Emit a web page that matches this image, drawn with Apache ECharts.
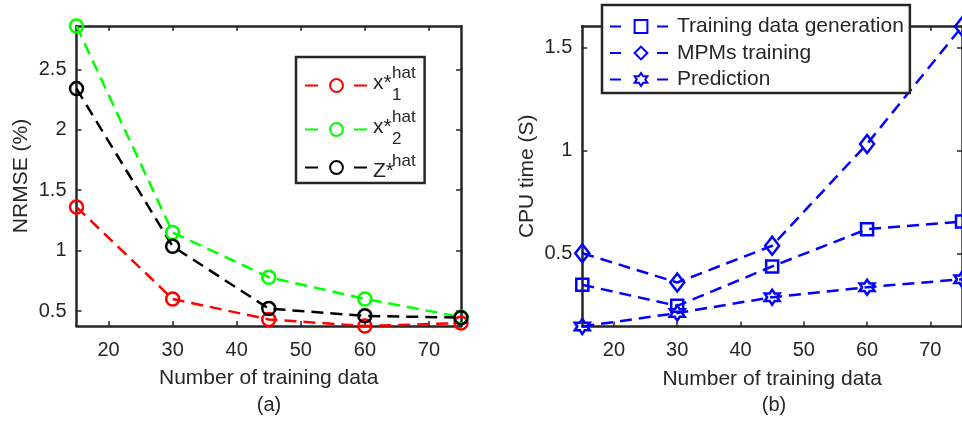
<!DOCTYPE html>
<html><head><meta charset="utf-8">
<script src="https://cdn.jsdelivr.net/npm/echarts@6/dist/echarts.min.js"></script>
<style>html,body{margin:0;padding:0;background:#fff}#c{width:962px;height:421px}</style>
</head><body><div id="c"></div>
<script>
// ---- data ----
const trainingCounts = [15, 30, 45, 60, 75];
const xTicks = [20, 30, 40, 50, 60, 70];
const nrmseTicks = [0.5, 1, 1.5, 2, 2.5];
const cpuTicks = [0.5, 1, 1.5];
const nrmseRange = [0.376, 2.858];
const cpuRange = [0.148, 1.603];
const nrmseX1 = [1.36, 0.60, 0.43, 0.376, 0.40];
const nrmseX2 = [2.858, 1.15, 0.78, 0.60, 0.45];
const nrmseZ = [2.34, 1.035, 0.52, 0.46, 0.445];
const cpuGeneration = [0.35, 0.248, 0.439, 0.619, 0.656];
const cpuTraining = [0.503, 0.361, 0.539, 1.032, 1.60];
const cpuPrediction = [0.148, 0.213, 0.29, 0.338, 0.377];
const nrmseNames = ['x*hat_1', 'x*hat_2', 'Z*hat'];
const cpuNames = ['Training data generation', 'MPMs training', 'Prediction'];
const xTitle = 'Number of training data';

const FONT = '"Liberation Sans", Arial, sans-serif';
const AX = '#262626';
const hexagram = 'path://M0,-10L2.887,-5L8.66,-5L5.774,0L8.66,5L2.887,5L0,10L-2.887,5L-8.66,5L-5.774,0L-8.66,-5L-2.887,-5Z';

function mk(name, vals, color, symbol, size, idx) {
  return {
    type: 'line', name, xAxisIndex: idx, yAxisIndex: idx,
    data: trainingCounts.map((x, i) => [x, vals[i]]),
    symbol, symbolSize: size, showAllSymbol: true, clip: false,
    lineStyle: { color, width: 2.5, type: [12, 7] },
    itemStyle: { color: 'transparent', borderColor: color, borderWidth: 2.5 },
    emphasis: { disabled: true }, z: 3
  };
}

function xAx(grid, pos, main) {
  return {
    type: 'value', gridIndex: grid, position: pos, min: 15, max: 75,
    splitLine: { show: false },
    axisLine: { show: true, onZero: false, lineStyle: { color: AX, width: 2.5 } },
    axisTick: { show: true, inside: true, length: 5, customValues: xTicks, lineStyle: { color: AX, width: 1.5 } },
    axisLabel: main ? { show: true, customValues: xTicks, fontSize: 20, color: AX, fontFamily: FONT, margin: 14 } : { show: false },
    name: main ? xTitle : '', nameLocation: 'middle', nameGap: 42,
    nameTextStyle: { fontSize: 21, color: AX, fontFamily: FONT }
  };
}
function yAx(grid, pos, range, ticks, title) {
  const main = !!title;
  return {
    type: 'value', gridIndex: grid, position: pos, min: range[0], max: range[1],
    splitLine: { show: false },
    axisLine: { show: true, onZero: false, lineStyle: { color: AX, width: 2.5 } },
    axisTick: { show: true, inside: true, length: 5, customValues: ticks, lineStyle: { color: AX, width: 1.5 } },
    axisLabel: main ? { show: true, customValues: ticks, fontSize: 20, color: AX, fontFamily: FONT, margin: 10 } : { show: false },
    name: title || '', nameLocation: 'middle', nameRotate: 90, nameGap: 45,
    nameTextStyle: { fontSize: 21, color: AX, fontFamily: FONT }
  };
}

const chart = echarts.init(document.getElementById('c'), null, { renderer: 'canvas' });
chart.setOption({
  animation: false,
  backgroundColor: '#fff',
  grid: [
    { left: 76.5, top: 26, width: 384.5, height: 300 },
    { left: 582.3, top: 26, width: 384, height: 300.5 }
  ],
  xAxis: [xAx(0, 'bottom', true), xAx(0, 'top', false), xAx(1, 'bottom', true), xAx(1, 'top', false)],
  yAxis: [
    yAx(0, 'left', nrmseRange, nrmseTicks, 'NRMSE (%)'),
    yAx(0, 'right', nrmseRange, nrmseTicks, null),
    yAx(1, 'left', cpuRange, cpuTicks, 'CPU time (S)'),
    yAx(1, 'right', cpuRange, cpuTicks, null)
  ],
  legend: [
    {
      data: nrmseNames, orient: 'vertical', left: 296, top: 57,
      padding: [8, 9, 1, 8], itemGap: 5, itemWidth: 63, itemHeight: 16,
      backgroundColor: '#fff', borderColor: AX, borderWidth: 2.5, borderRadius: 0,
      lineStyle: { type: [13, 36] }, selectedMode: false,
      formatter: function (n) {
        if (n === 'Z*hat') return '{sp| }{sup|hat}\n{b|Z*}';
        const k = n.slice(-1);
        return '{sp| }{sup|hat}\n{b|x*}\n{sp2| }{sub|' + k + '}';
      },
      textStyle: {
        color: AX, fontFamily: FONT, fontSize: 21,
        rich: {
          b: { fontSize: 21, lineHeight: 12, fontFamily: FONT, color: AX },
          sp: { width: 19, fontSize: 16, lineHeight: 8 },
          sp2: { width: 19, fontSize: 16, lineHeight: 12 },
          sup: { fontSize: 17, lineHeight: 8, fontFamily: FONT, color: AX },
          sub: { fontSize: 17, lineHeight: 12, fontFamily: FONT, color: AX }
        }
      }
    },
    {
      data: cpuNames, orient: 'vertical', left: 602, top: 5,
      padding: [11, 6, 3, 7], itemGap: 5.5, itemWidth: 62, itemHeight: 16,
      backgroundColor: '#fff', borderColor: AX, borderWidth: 2.5, borderRadius: 0,
      lineStyle: { type: [11, 36] }, selectedMode: false,
      textStyle: { color: AX, fontFamily: FONT, fontSize: 21, lineHeight: 21 }
    }
  ],
  graphic: [
    { type: 'text', x: 269, y: 405, style: { text: '(a)', align: 'center', verticalAlign: 'middle', fontSize: 20, fill: AX, fontFamily: FONT } },
    { type: 'text', x: 774, y: 405, style: { text: '(b)', align: 'center', verticalAlign: 'middle', fontSize: 20, fill: AX, fontFamily: FONT } }
  ],
  series: [
    mk(nrmseNames[0], nrmseX1, '#ff0000', 'circle', 13, 0),
    mk(nrmseNames[1], nrmseX2, '#00ff00', 'circle', 13, 0),
    mk(nrmseNames[2], nrmseZ, '#000000', 'circle', 13, 0),
    mk(cpuNames[0], cpuGeneration, '#0000ff', 'rect', 12, 2),
    mk(cpuNames[1], cpuTraining, '#0000ff', 'diamond', [14, 18], 2),
    mk(cpuNames[2], cpuPrediction, '#0000ff', hexagram, 15, 2)
  ]
});
</script></body></html>
